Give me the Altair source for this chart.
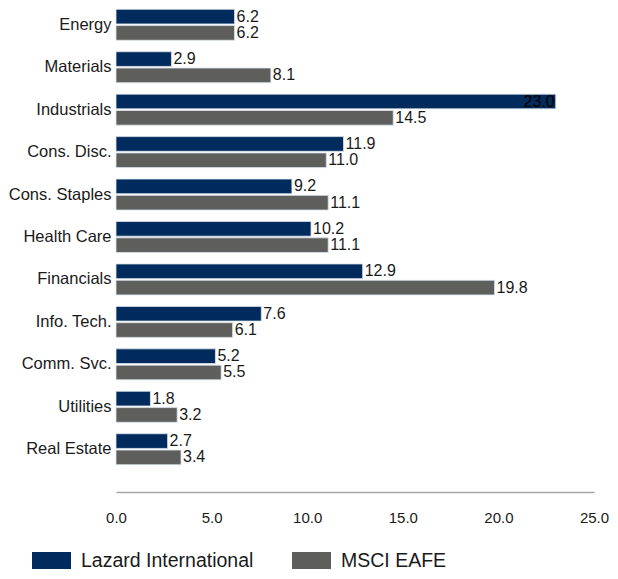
import altair as alt
import pandas as pd

sectors = ["Energy", "Materials", "Industrials", "Cons. Disc.", "Cons. Staples",
           "Health Care", "Financials", "Info. Tech.", "Comm. Svc.", "Utilities", "Real Estate"]
lazard = [6.2, 2.9, 23.0, 11.9, 9.2, 10.2, 12.9, 7.6, 5.2, 1.8, 2.7]
msci = [6.2, 8.1, 14.5, 11.0, 11.1, 11.1, 19.8, 6.1, 5.5, 3.2, 3.4]
series = ["Lazard International", "MSCI EAFE"]
colors = ["#002B5C", "#5E5F5D"]
x_ticks = [0, 5, 10, 15, 20, 25]

rows = []
for s, a, b in zip(sectors, lazard, msci):
    rows.append({"sector": s, "series": series[0], "value": a})
    rows.append({"sector": s, "series": series[1], "value": b})
df = pd.DataFrame(rows)

FONT = "Liberation Sans"

y_enc = alt.Y("sector:N", sort=sectors, title=None,
              scale=alt.Scale(paddingInner=0.27, paddingOuter=0.03),
              axis=alt.Axis(domain=False, ticks=False, labelFontSize=16.5,
                            labelColor="#1a1a1a", labelPadding=5, labelFont=FONT))
yoff = alt.YOffset("series:N", sort=series, scale=alt.Scale(paddingInner=0.1))
x_enc = alt.X("value:Q", title=None,
              scale=alt.Scale(domain=[0, 25], nice=False, zero=True),
              axis=alt.Axis(values=x_ticks, format=".1f", ticks=False, grid=False,
                            domainColor="#a6a6a6", domainWidth=1.5, offset=26,
                            labelFontSize=15, labelColor="#1a1a1a", labelPadding=18,
                            labelFont=FONT, labelFlush=False, labelBound=False))

base = alt.Chart(df)

bars = base.mark_bar(stroke="#dde4ee", strokeWidth=0.8).encode(
    y=y_enc, yOffset=yoff, x=x_enc,
    color=alt.Color("series:N", sort=series,
                    scale=alt.Scale(domain=series, range=colors),
                    legend=alt.Legend(title=None, orient="none", direction="horizontal",
                                      legendX=-84, legendY=533,
                                      symbolType="M-1,-0.44h2v0.88h-2z", symbolSize=1521,
                                      symbolStrokeWidth=0, labelFontSize=19.5,
                                      labelFont=FONT, labelColor="#1a1a1a", labelLimit=400,
                                      labelOffset=10, columnPadding=38, padding=0)),
)

labels_out = base.transform_filter(alt.datum.value < 22).mark_text(
    align="left", baseline="middle", dx=2, fontSize=16, font=FONT, color="#1a1a1a"
).encode(y=alt.Y("sector:N", sort=sectors), yOffset=yoff, x="value:Q",
         text=alt.Text("value:Q", format=".1f"))

labels_in = base.transform_filter(alt.datum.value >= 22).mark_text(
    align="right", baseline="middle", dx=-1, fontSize=16, font=FONT, color="#000000"
).encode(y=alt.Y("sector:N", sort=sectors), yOffset=yoff, x="value:Q",
         text=alt.Text("value:Q", format=".1f"))

chart = alt.layer(bars, labels_out, labels_in).properties(
    width=478, height=458,
    autosize=alt.AutoSizeParams(type="none"),
    padding={"left": 108, "top": 0, "right": 16, "bottom": 104},
).configure(font=FONT).configure_view(stroke=None)

chart.save("out.html", embed_options={"renderer": "svg", "actions": False})
